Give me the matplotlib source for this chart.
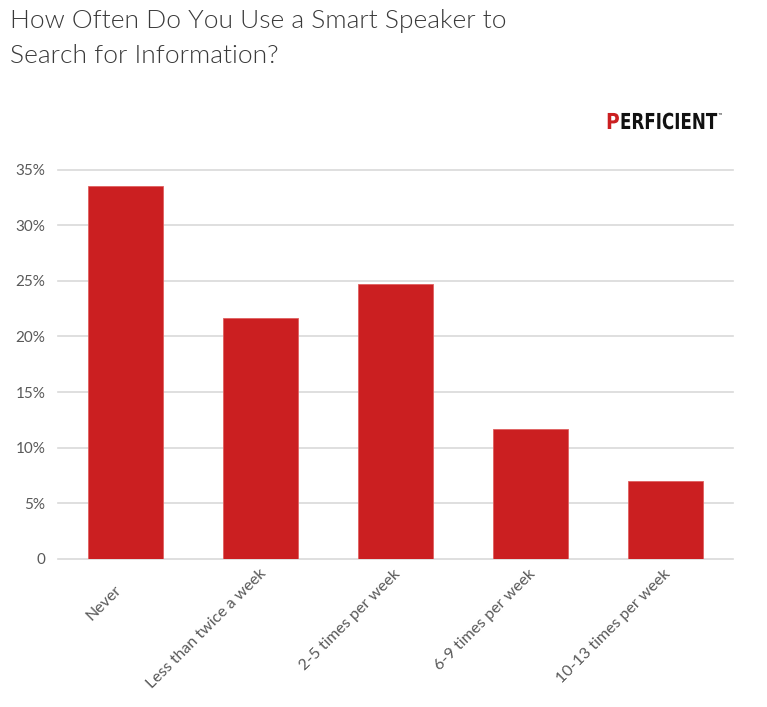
import numpy as np
import matplotlib
matplotlib.use("Agg")
import matplotlib.pyplot as plt
import matplotlib.transforms as mtransforms
from matplotlib.textpath import TextPath
from matplotlib.patches import PathPatch
from matplotlib.font_manager import FontProperties

categories = ["Never", "Less than twice a week", "2-5 times per week",
              "6-9 times per week", "10-13 times per week"]
values = [33.5, 21.7, 24.7, 11.7, 7.0]
yticks = [0, 5, 10, 15, 20, 25, 30, 35]
yticklabels = ["0", "5%", "10%", "15%", "20%", "25%", "30%", "35%"]

title_line1 = "How Often Do You Use a Smart Speaker to"
title_line2 = "Search for Information?"

plt.rcParams['font.family'] = ['Lato', 'DejaVu Sans']

W, H = 767, 707
fig = plt.figure(figsize=(W / 100, H / 100), dpi=100)
fig.patch.set_facecolor("white")

# axes placed in pixel terms
left, right, bottom, top = 58, 733, 559, 169.5
ax = fig.add_axes([left / W, 1 - bottom / H, (right - left) / W, (bottom - top) / H])

x = np.arange(len(categories))
ax.bar(x, values, width=0.555, color="#CB1F21", edgecolor="#E06060",
       linewidth=0.6, zorder=3)

ax.set_xlim(-0.5, len(categories) - 0.5)
ax.set_ylim(0, 35)
ax.set_yticks(yticks)
ax.set_yticklabels(yticklabels, fontsize=11, color="#595959")
ax.yaxis.grid(True, color="#D9D9D9", linewidth=1.2, zorder=0)
for gl in ax.get_ygridlines():
    gl.set_clip_on(False)
ax.tick_params(axis='y', length=0, pad=9)
ax.tick_params(axis='x', length=0, pad=9)

ax.set_xticks(x)
ax.set_xticklabels(categories, rotation=45, ha='right', va='center',
                   rotation_mode='anchor', fontsize=11.5, color="#595959")
# excel put the short first label a little lower/left
lbl0 = ax.get_xticklabels()[0]
lbl0.set_transform(lbl0.get_transform() +
                   mtransforms.ScaledTranslation(-0.06, -0.16, fig.dpi_scale_trans))
for lbl in ax.get_xticklabels()[1:]:
    lbl.set_transform(lbl.get_transform() +
                      mtransforms.ScaledTranslation(0.03, 0.0, fig.dpi_scale_trans))

for s in ax.spines.values():
    s.set_visible(False)

# title
fig.text(10 / W, 1 - 28 / H, title_line1, fontsize=19, fontweight=300,
         color="#3A3A3A", va='baseline', ha='left')
fig.text(10 / W, 1 - 63 / H, title_line2, fontsize=19, fontweight=300,
         color="#3A3A3A", va='baseline', ha='left')

# logo, squeezed horizontally to look condensed
lax = fig.add_axes([0, 0, 1, 1], facecolor='none')
lax.set_xlim(0, W)
lax.set_ylim(H, 0)
lax.axis('off')
fp = FontProperties(family='DejaVu Sans', weight='bold')


def logo_text(s, x0, y0, size, sx, color):
    tp = TextPath((0, 0), s, size=size, prop=fp)
    tr = mtransforms.Affine2D().scale(sx, -1).translate(x0, y0)
    lax.add_patch(PathPatch(tr.transform_path(tp), facecolor=color,
                            edgecolor='none'))


logo_text("P", 606, 129, 22, 0.85, "#CB1F21")
logo_text("ERFICIENT", 620, 129, 22, 0.76, "#111111")
logo_text("\u2122", 718, 117, 5, 1.0, "#111111")

fig.savefig("out.png", dpi=100, facecolor="white")
